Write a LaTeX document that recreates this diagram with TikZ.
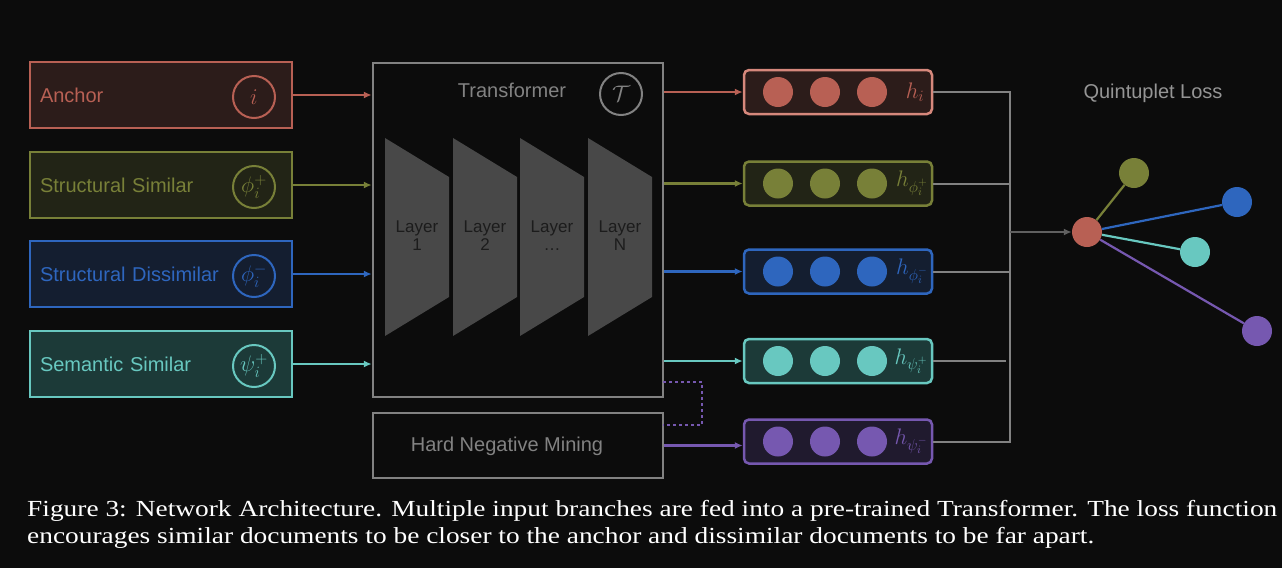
\RequirePackage{fix-cm}
\documentclass[tikz,border=0pt]{standalone}
\usepackage{fontspec}
\setmainfont{Liberation Serif}
\setsansfont{Liberation Sans}
\usepackage{tikz}
\usetikzlibrary{arrows.meta,positioning,calc}
\definecolor{bg}{RGB}{12,12,12}
\definecolor{anc}{RGB}{184,96,84}
\definecolor{ancline}{RGB}{214,136,124}
\definecolor{ancfill}{RGB}{44,28,26}
\definecolor{olv}{RGB}{120,128,56}
\definecolor{olvfill}{RGB}{34,36,22}
\definecolor{blu}{RGB}{46,102,190}
\definecolor{blufill}{RGB}{20,30,48}
\definecolor{tea}{RGB}{104,200,192}
\definecolor{teafill}{RGB}{28,58,56}
\definecolor{prp}{RGB}{118,88,176}
\definecolor{prpfill}{RGB}{32,26,46}
\definecolor{gry}{RGB}{130,130,130}
\definecolor{gryarr}{RGB}{96,96,96}
\definecolor{layerfill}{RGB}{72,72,72}
\definecolor{layertext}{RGB}{28,28,28}
\tikzstyle{input}=[draw, line width=2.5pt, text width=242pt, inner xsep=10pt, align=left, minimum height=66pt]
\tikzstyle{tag}=[circle, draw, line width=2pt, minimum size=42pt, inner sep=0pt, font=\fontsize{22.5}{26}\selectfont]
\tikzstyle{tbox}=[draw=gry, line width=2.5pt, minimum width=290pt]
\tikzstyle{embed}=[draw, rounded corners=5pt, line width=2.5pt, minimum width=188pt, minimum height=44pt]
\tikzstyle{unit}=[circle, minimum size=30pt, inner sep=0pt]
\tikzstyle{hlabel}=[font=\fontsize{22.5}{26}\selectfont]
\tikzstyle{arrow}=[line width=2.5pt, -{Latex[length=8pt,width=7pt]}]
\tikzstyle{wire}=[line width=2pt, draw=gry]
\tikzstyle{pull}=[line width=2.2pt]
\tikzstyle{caption}=[anchor=west, inner sep=0pt, text=white, font=\rmfamily\fontsize{23}{27}\selectfont]

\begin{document}
\begin{tikzpicture}[x=1pt,y=-1pt,font=\sffamily\fontsize{20}{24}\selectfont]
\fill[bg] (0,0) rectangle (1282,568);
\useasboundingbox (0,0) rectangle (1282,568);

% input branches
\node (anchor) [input,draw=anc,fill=ancfill,text=anc] at (161,95) {Anchor};
\node (ssim) [input,draw=olv,fill=olvfill,text=olv] at (161,185) {Structural Similar};
\node (sdis) [input,draw=blu,fill=blufill,text=blu] at (161,274) {Structural Dissimilar};
\node (msim) [input,draw=tea,fill=teafill,text=tea] at (161,364) {Semantic Similar};
\node (tanchor) [tag,draw=anc,text=anc] at (254,97) {$i$};
\node (tssim) [tag,draw=olv,text=olv] at (254,187) {$\phi_i^+$};
\node (tsdis) [tag,draw=blu,text=blu] at (254,276) {$\phi_i^-$};
\node (tmsim) [tag,draw=tea,text=tea] at (254,366) {$\psi_i^+$};

% transformer
\node (trans) [tbox,minimum height=334pt] at (518,230) {};
\node (ttitle) [text=gry] at (512,90) {Transformer};
\node (ttag) [tag,draw=gry,text=gry] at (621,94) {$\mathcal{T}$};
\foreach \x/\n in {385/1,453/2,520/\ldots,588/N}{
  \fill[layerfill] (\x,138) -- (\x+64,177) -- (\x+64,297) -- (\x,336) -- cycle;
  \node[text=layertext,align=center,font=\sffamily\fontsize{17}{18}\selectfont] at (\x+32,236) {Layer\\\n};
}
\node (hnm) [tbox,minimum height=65pt] at (518,445.5) {};
\node (hnmtext) [text=gry] at (507,446) {Hard Negative Mining};
\coordinate (dtop) at (663,382);
\coordinate (dbot) at (663,425);
\draw[prp,dashed,line width=1.5pt] (dtop) -- ++(39,0) |- (dbot);

% embeddings
\node (eanc) [embed,draw=ancline,fill=ancfill] at (838,92) {};
\node (essim) [embed,draw=olv,fill=olvfill] at (838,183.5) {};
\node (esdis) [embed,draw=blu,fill=blufill] at (838,271.5) {};
\node (emsim) [embed,draw=tea,fill=teafill] at (838,361) {};
\node (ehnm) [embed,draw=prp,fill=prpfill] at (838,441.5) {};
\foreach \e/\c in {eanc/anc,essim/olv,esdis/blu,emsim/tea,ehnm/prp}{
  \foreach \d in {-60,-13,34}
    \node[unit,fill=\c] at ($(\e.center)+(\d,0)$) {};
}
\node[hlabel,text=anc] at ($(eanc.center)+(77,0)$) {$h_i$};
\node[hlabel,text=olv] at ($(essim.center)+(74,0)$) {$h_{\phi_i^+}$};
\node[hlabel,text=blu] at ($(esdis.center)+(74,0)$) {$h_{\phi_i^-}$};
\node[hlabel,text=tea] at ($(emsim.center)+(73,0)$) {$h_{\psi_i^+}$};
\node[hlabel,text=prp] at ($(ehnm.center)+(73,0)$) {$h_{\psi_i^-}$};

\draw[arrow,anc] (anchor.east) -- (anchor.east -| trans.west);
\draw[arrow,olv] (ssim.east) -- (ssim.east -| trans.west);
\draw[arrow,blu] (sdis.east) -- (sdis.east -| trans.west);
\draw[arrow,tea] (msim.east) -- (msim.east -| trans.west);
\draw[arrow,anc] (eanc.west -| trans.east) -- (eanc.west);
\draw[arrow,olv] (essim.west -| trans.east) -- (essim.west);
\draw[arrow,blu] (esdis.west -| trans.east) -- (esdis.west);
\draw[arrow,tea] (emsim.west -| trans.east) -- (emsim.west);
\draw[arrow,prp] (hnm.east) -- (hnm.east -| ehnm.west);

% quintuplet loss
\coordinate (bus) at (1010,232);
\draw[wire] (eanc.east) -| (bus) |- (ehnm.east);
\draw[wire] (essim.east) -- (essim.east -| bus);
\draw[wire] (esdis.east) -- (esdis.east -| bus);
\draw[wire,shorten >=4pt] (emsim.east) -- (emsim.east -| bus);
\node (qtitle) [text=gry!85] at (1153,93) {Quintuplet Loss};
\node (qa) [unit,fill=anc] at (1087,232) {};
\node (qo) [unit,fill=olv] at (1134,173) {};
\node (qb) [unit,fill=blu] at (1237,202) {};
\node (qt) [unit,fill=tea] at (1195,252) {};
\node (qp) [unit,fill=prp] at (1257,331) {};
\draw[arrow,gryarr] (bus) -- (qa);
\draw[pull,olv] (qa) -- (qo);
\draw[pull,blu] (qa) -- (qb);
\draw[pull,tea] (qa) -- (qt);
\draw[pull,prp] (qa) -- (qp);

% caption
\node (cap1) [caption] at (27,511) {\scalebox{1.19}[1]{Figure 3: Network Architecture. Multiple input branches are fed into a pre-trained Transformer. The loss function}};
\node (cap2) [caption] at (27,538) {\scalebox{1.19}[1]{encourages similar documents to be closer to the anchor and dissimilar documents to be far apart.}};
\end{tikzpicture}
\end{document}
